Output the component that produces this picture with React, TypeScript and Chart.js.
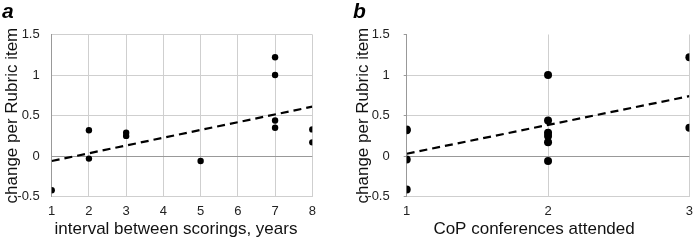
import React, { useEffect, useRef } from "react";
import { Chart, registerables } from "chart.js";

Chart.register(...registerables);

// Panel a: interval between scorings
const intervalYears = [1, 2, 2, 3, 3, 5, 7, 7, 7, 7, 8, 8];
const intervalChange = [-0.42, 0.32, -0.03, 0.29, 0.25, -0.06, 1.22, 1.0, 0.44, 0.35, 0.33, 0.17];
const trendAX = [1, 8];
const trendAY = [-0.06, 0.61];

// Panel b: CoP conferences attended
const conferences = [1, 1, 1, 1, 2, 2, 2, 2, 2, 2, 3, 3];
const confChange = [0.33, 0.32, -0.04, -0.41, 1.0, 0.44, 0.29, 0.25, 0.17, -0.06, 1.22, 0.35];
const trendBX = [1, 3];
const trendBY = [0.03, 0.74];

const yTicks = [-0.5, 0, 0.5, 1, 1.5];
const yTickLabels = ["-0.5", "0", "0.5", "1", "1.5"];
const yTitle = "change per Rubric item";
const xTitleA = "interval between scorings, years";
const xTitleB = "CoP conferences attended";

const FONT = "'Liberation Sans', Arial, Helvetica, sans-serif";

type PanelProps = {
  label: string;
  xs: number[];
  ys: number[];
  tx: number[];
  ty: number[];
  xMin: number;
  xMax: number;
  xTitle: string;
  padLeft: number;
  padRight: number;
  yWidth: number;
  radius: number;
  yPad: number;
  yTickLen: number;
  showTopGrid: boolean;
  titleShift: number;
};

function Panel(p: PanelProps) {
  const ref = useRef<HTMLCanvasElement | null>(null);
  useEffect(() => {
    if (!ref.current) return;
    const xTitlePlugin = {
      id: "xTitleShifted",
      afterDraw(chart: any) {
        const { ctx, chartArea } = chart;
        ctx.save();
        ctx.font = `17px ${FONT}`;
        ctx.fillStyle = "#111";
        ctx.textAlign = "center";
        ctx.textBaseline = "alphabetic";
        const cx = (chartArea.left + chartArea.right) / 2 - p.titleShift;
        ctx.fillText(p.xTitle, cx, chart.height - 6.5);
        ctx.restore();
      },
    };
    const chart = new Chart(ref.current, {
      type: "scatter",
      data: {
        datasets: [
          {
            type: "line",
            data: p.tx.map((x, i) => ({ x, y: p.ty[i] })),
            borderColor: "#000",
            borderWidth: 2.2,
            borderDash: [8, 5],
            pointRadius: 0,
            fill: false,
          },
          {
            type: "scatter",
            data: p.xs.map((x, i) => ({ x, y: p.ys[i] })),
            backgroundColor: "#000",
            borderColor: "#000",
            borderWidth: 0,
            pointRadius: p.radius,
          },
        ],
      },
      options: {
        animation: false,
        responsive: false,
        layout: { padding: { left: p.padLeft, right: p.padRight, top: 0, bottom: 0 } },
        plugins: {
          legend: { display: false },
          tooltip: { enabled: false },
          title: {
            display: true,
            text: p.label,
            align: "start",
            color: "#000",
            font: { family: FONT, size: 21, style: "italic" },
            padding: { top: 0, bottom: 9.3 },
          },
        },
        scales: {
          x: {
            type: "linear",
            min: p.xMin,
            max: p.xMax,
            afterFit: (s: any) => {
              s.height = 43.3;
            },
            ticks: {
              stepSize: 1,
              color: "#222",
              padding: 7,
              font: { family: FONT, size: 13 },
            },
            grid: { color: "#cfcfcf", drawTicks: false, lineWidth: 1 },
            border: { display: false },
            title: { display: false },
          },
          y: {
            type: "linear",
            min: yTicks[0],
            max: yTicks[yTicks.length - 1],
            afterFit: (s: any) => {
              s.width = p.yWidth;
            },
            afterBuildTicks: (s: any) => {
              s.ticks = yTicks.map((v) => ({ value: v }));
            },
            ticks: {
              color: "#222",
              padding: p.yPad,
              font: { family: FONT, size: 13 },
              callback: (v: any) => {
                const i = yTicks.indexOf(Number(v));
                return i >= 0 ? yTickLabels[i] : String(v);
              },
            },
            grid: {
              color: (c: any) => {
                const v = c.tick ? c.tick.value : null;
                if (v === 0) return "#999";
                if (!p.showTopGrid && v === yTicks[yTicks.length - 1]) return "rgba(0,0,0,0)";
                return "#cfcfcf";
              },
              tickColor: "#999",
              drawTicks: p.yTickLen > 0,
              tickLength: p.yTickLen,
              lineWidth: 1,
            },
            border: { display: true, color: "#999", width: 1 },
            title: {
              display: true,
              text: yTitle,
              color: "#111",
              font: { family: FONT, size: 17 },
              padding: { top: 0, bottom: 0 },
            },
          },
        },
      },
      plugins: [xTitlePlugin],
    } as any);
    return () => chart.destroy();
  }, []);
  return <canvas ref={ref} width={350} height={240} style={{ width: 350, height: 240, display: "block" }} />;
}

export default function App() {
  return (
    <div style={{ position: "fixed", left: 0, top: 0, width: 700, height: 240, background: "#fff" }}>
      <div style={{ position: "absolute", left: 0, top: 0 }}>
        <Panel
          label="a"
          xs={intervalYears}
          ys={intervalChange}
          tx={trendAX}
          ty={trendAY}
          xMin={1}
          xMax={8}
          xTitle={xTitleA}
          padLeft={2}
          padRight={37.7}
          yWidth={49.7}
          radius={3.2}
          yPad={12}
          yTickLen={0}
          showTopGrid={true}
          titleShift={6}
        />
      </div>
      <div style={{ position: "absolute", left: 350, top: 0 }}>
        <Panel
          label="b"
          xs={conferences}
          ys={confChange}
          tx={trendBX}
          ty={trendBY}
          xMin={1}
          xMax={3}
          xTitle={xTitleB}
          padLeft={3}
          padRight={5}
          yWidth={53.7}
          radius={4}
          yPad={14}
          yTickLen={3}
          showTopGrid={false}
          titleShift={14}
        />
      </div>
    </div>
  );
}
